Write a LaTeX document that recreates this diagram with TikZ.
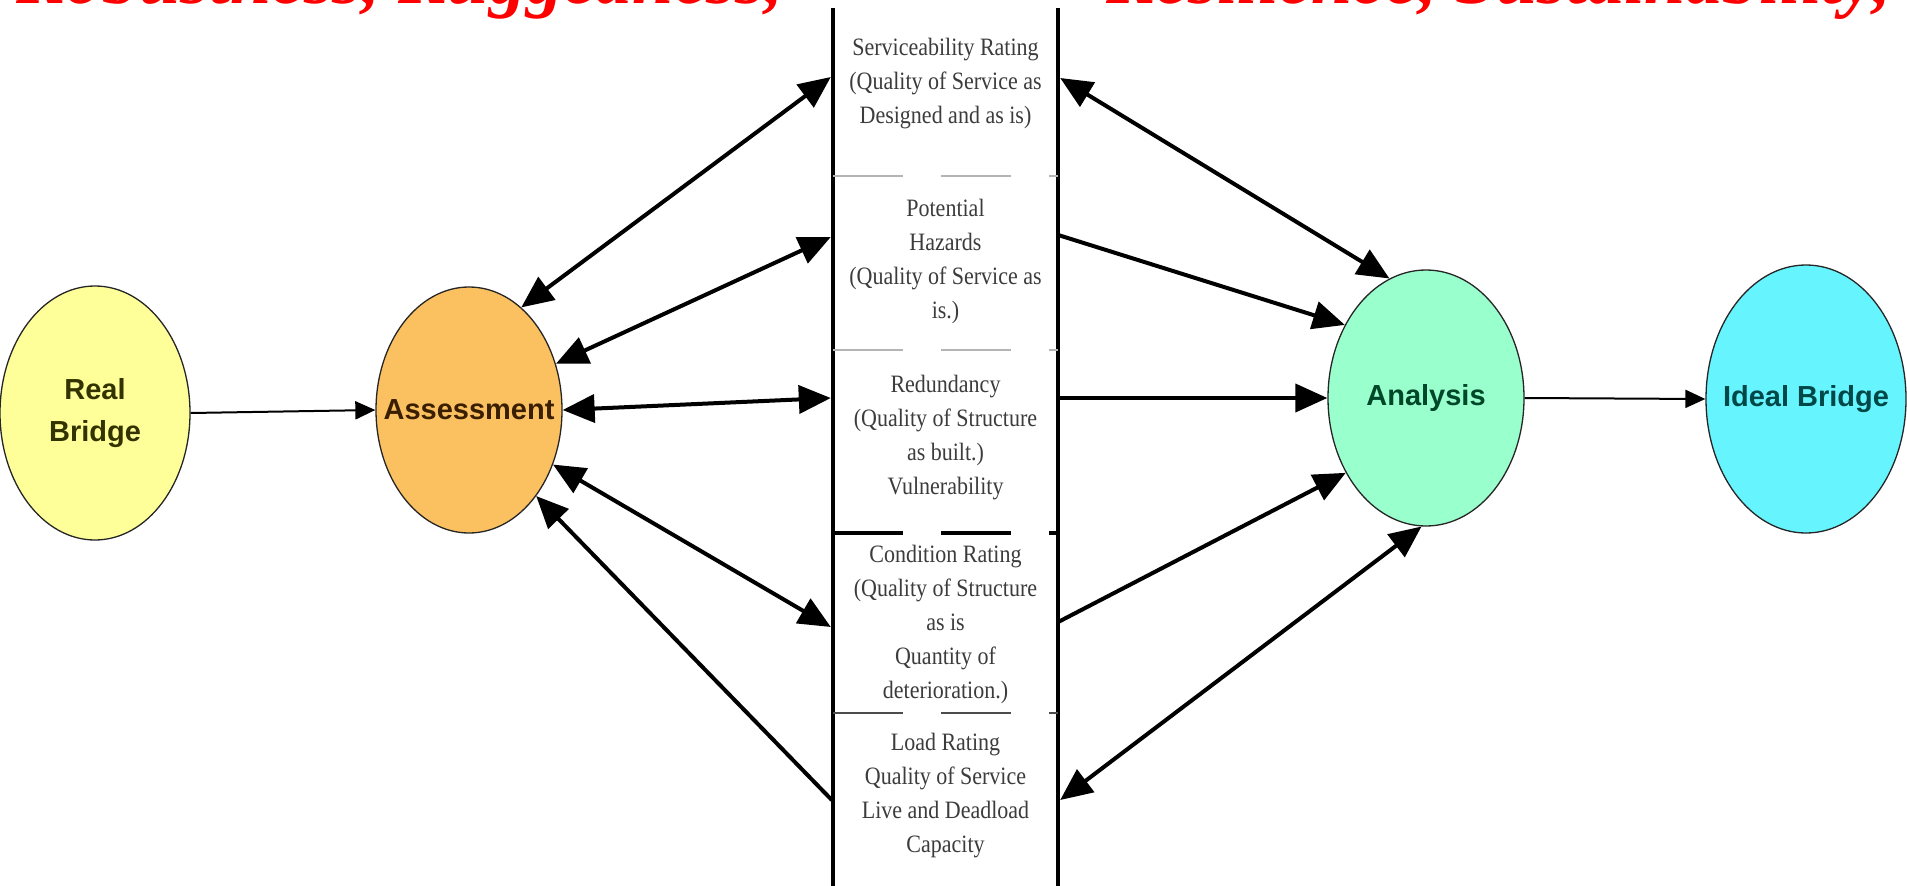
\documentclass[tikz,border=0pt]{standalone}
\usepackage{fontspec}
\setmainfont{Liberation Serif}
\newfontfamily\boxfont[FakeStretch=0.88]{Liberation Serif}
\newfontfamily\ellfont{Liberation Sans}
\usetikzlibrary{arrows.meta,shapes.geometric,calc}
\definecolor{rbfill}{HTML}{FFFF99}
\definecolor{asfill}{HTML}{FBC060}
\definecolor{anfill}{HTML}{99FFCC}
\definecolor{ibfill}{HTML}{66F5FF}
\definecolor{rbtext}{HTML}{333300}
\definecolor{astext}{HTML}{3A1E00}
\definecolor{antext}{HTML}{00472A}
\definecolor{ibtext}{HTML}{004747}
\definecolor{boxtext}{HTML}{3C3C3C}
\definecolor{divgrey}{HTML}{B4B4B4}
\begin{document}
\begin{tikzpicture}[x=1pt,y=-1pt,
  ell/.style={ellipse, draw=black!85, line width=1.3pt, inner sep=0pt},
  elltext/.style={font=\ellfont\bfseries\fontsize{29}{42}\selectfont, align=center, inner sep=0pt},
  boxtext/.style={font=\boxfont\fontsize{25}{34}\selectfont, text=boxtext, align=center, minimum width=225pt, inner sep=0pt},
  redtitle/.style={anchor=base west, inner sep=0pt, text=red, font=\fontsize{74}{80}\selectfont\bfseries\itshape},
  bigarrow/.style={line width=4pt, -{Triangle[length=32pt,width=28pt]}},
  biarrow/.style={line width=4pt, {Triangle[length=32pt,width=28pt]}-{Triangle[length=32pt,width=28pt]}},
  thinarrow/.style={line width=2pt, -{Triangle[length=20pt,width=18pt]}},
  boxline/.style={line width=4pt, black},
  divthin/.style={line width=2pt, dash pattern=on 70pt off 38pt},
  divthick/.style={line width=4pt, dash pattern=on 70pt off 38pt}
]
\useasboundingbox (0,0) rectangle (1907,886);
\clip (0,0) rectangle (1907,886);
\fill[white] (0,0) rectangle (1907,886);

% red titles (cut at the top)
\node[redtitle] (redL) at (16,4) {Robustness, Ruggedness,};
\node[redtitle] (redR) at (1106,4) {Resilience, Sustainability,};

% central column
\draw[boxline] (833,8) -- (833,890);
\draw[boxline] (1058,8) -- (1058,890);
\draw[divthin, divgrey] (833,176) -- (1058,176);
\draw[divthin, divgrey] (833,350) -- (1058,350);
\draw[divthick, black] (833,533) -- (1058,533);
\draw[divthin, black!70] (833,713) -- (1058,713);

\node[boxtext] (t1) at (945.5,84) {Serviceability Rating\\(Quality of Service as\\Designed and as is)};
\node[boxtext] (t2) at (945.5,261) {Potential\\Hazards\\(Quality of Service as\\is.)};
\node[boxtext] (t3) at (945.5,438) {Redundancy\\(Quality of Structure\\as built.)\\Vulnerability};
\node[boxtext] (t4) at (945.5,624) {Condition Rating\\(Quality of Structure\\as is\\Quantity of\\deterioration.)};
\node[boxtext] (t5) at (945.5,796) {Load Rating\\Quality of Service\\Live and Deadload\\Capacity};

% ellipses
\node[ell, fill=rbfill, minimum width=190pt, minimum height=254pt] (rb) at (95,413) {};
\node[ell, fill=asfill, minimum width=186pt, minimum height=246pt] (as) at (469,410) {};
\node[ell, fill=anfill, minimum width=196pt, minimum height=256pt] (an) at (1426,398) {};
\node[ell, fill=ibfill, minimum width=200pt, minimum height=268pt] (ib) at (1806,399) {};

\node[elltext, text=rbtext] (rbT) at (rb.center) {Real\\Bridge};
\node[elltext, text=astext] (asT) at (as.center) {Assessment};
\node[elltext, text=antext] (anT) at (an.center) {Analysis};
\node[elltext, text=ibtext] (ibT) at (ib.center) {Ideal Bridge};

% connectors
\draw[thinarrow] (rb.east) -- (as.west);
\draw[thinarrow] (an.east) -- (ib.west);

\draw[biarrow] (as.63) -- ([xshift=-2pt,yshift=7pt]t1.west);
\draw[biarrow] (as.28) -- ([xshift=-2pt,yshift=24pt]t2.west);
\draw[biarrow] (as.0) -- ([xshift=-2pt,yshift=40pt]t3.west);
\draw[biarrow] (as.-33) -- ([xshift=-2pt,yshift=-3pt]t4.west);
\draw[bigarrow] ([xshift=-1pt,yshift=-4pt]t5.west) -- (as.-52);

\draw[biarrow] ([xshift=2pt,yshift=6pt]t1.east) -- (an.107);
\draw[bigarrow] ([yshift=26pt]t2.east) -- (an.138);
\draw[bigarrow] ([yshift=40pt]t3.east) -- (an.180);
\draw[bigarrow] ([yshift=2pt]t4.east) -- (an.223);
\draw[biarrow] ([xshift=2pt,yshift=-4pt]t5.east) -- (an.268);
\end{tikzpicture}
\end{document}
